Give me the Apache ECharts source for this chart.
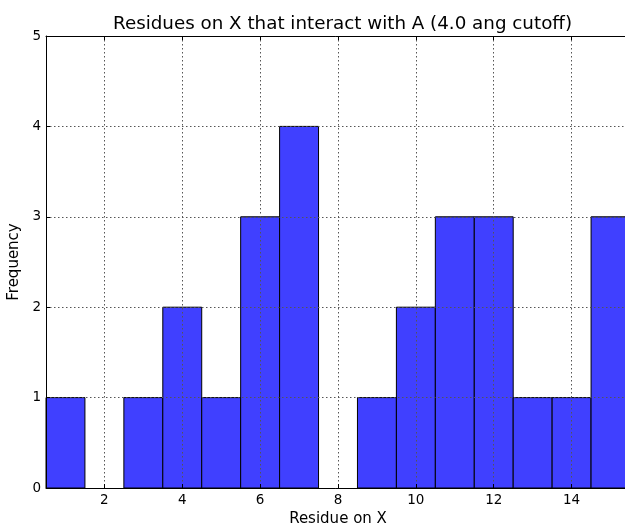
<!DOCTYPE html>
<html>
<head>
<meta charset="utf-8">
<script src="https://cdn.jsdelivr.net/npm/echarts@6/dist/echarts.min.js"></script>
<style>
html,body{margin:0;padding:0;background:#fff;}
#c{width:625px;height:523px;}
</style>
</head>
<body>
<div id="c"></div>
<script>
const residues = [1,2,3,4,5,6,7,8,9,10,11,12,13,14,15];
const frequency = [1,0,1,2,1,3,4,0,1,2,3,3,1,1,3];
const xTicks = [2,4,6,8,10,12,14];
const titleText = 'Residues on X that interact with A (4.0 ang cutoff)';
const xName = 'Residue on X';
const yName = 'Frequency';

const font = 'DejaVu Sans';
const gridStyle = {show:true, lineStyle:{color:'#555', width:1, type:[1.5,2.5]}};

const chart = echarts.init(document.getElementById('c'), null, {renderer:'canvas'});
chart.setOption({
  animation:false,
  backgroundColor:'#fff',
  title:{text:titleText, left:108, top:10,
    textStyle:{fontFamily:font, fontSize:18.3, fontWeight:'normal', color:'#000'}},
  grid:{left:46, top:36, width:584, height:452, containLabel:false, outerBoundsMode:'none'},
  xAxis:[{
    type:'value', min:0.5, max:15.5, z:5,
    name:xName, nameLocation:'middle', nameGap:19,
    nameTextStyle:{fontFamily:font, fontSize:15, color:'#000'},
    axisLine:{show:true, onZero:false, lineStyle:{color:'#000', width:1}},
    axisTick:{show:true, inside:true, length:4, customValues:xTicks, lineStyle:{color:'#000'}},
    axisLabel:{show:true, customValues:xTicks, margin:5, fontFamily:font, fontSize:13.5, color:'#000'},
    splitLine:gridStyle
  },{
    type:'value', position:'top', min:0.5, max:15.5, z:5,
    axisLine:{show:true, onZero:false, lineStyle:{color:'#000', width:1}},
    axisTick:{show:true, inside:true, length:4, customValues:xTicks, lineStyle:{color:'#000'}},
    axisLabel:{show:false},
    splitLine:{show:false}
  }],
  yAxis:[{
    type:'value', min:0, max:5, interval:1, z:5,
    name:yName, nameLocation:'middle', nameGap:17,
    nameTextStyle:{fontFamily:font, fontSize:15, color:'#000'},
    axisLine:{show:true, onZero:false, lineStyle:{color:'#000', width:1}},
    axisTick:{show:true, inside:true, length:4, lineStyle:{color:'#000'}},
    axisLabel:{show:true, margin:5, fontFamily:font, fontSize:13.5, color:'#000'},
    splitLine:gridStyle
  },{
    type:'value', position:'right', min:0, max:5, interval:1, z:5,
    axisLine:{show:true, onZero:false, lineStyle:{color:'#000', width:1}},
    axisTick:{show:true, inside:true, length:4},
    axisLabel:{show:false},
    splitLine:{show:false}
  }],
  series:[{
    type:'custom', xAxisIndex:0, yAxisIndex:0, z:1, clip:false,
    data: residues.map((r,i)=>[r, frequency[i]]),
    renderItem:function(params, api){
      const x = api.value(0), y = api.value(1);
      if (!y) return null;
      const p0 = api.coord([x-0.5, 0]);
      const p1 = api.coord([x+0.5, y]);
      return {type:'rect',
        shape:{x:p0[0], y:p1[1], width:p1[0]-p0[0], height:p0[1]-p1[1]},
        style:{fill:'#4040ff', stroke:'#000', lineWidth:1}};
    }
  }]
});
</script>
</body>
</html>
